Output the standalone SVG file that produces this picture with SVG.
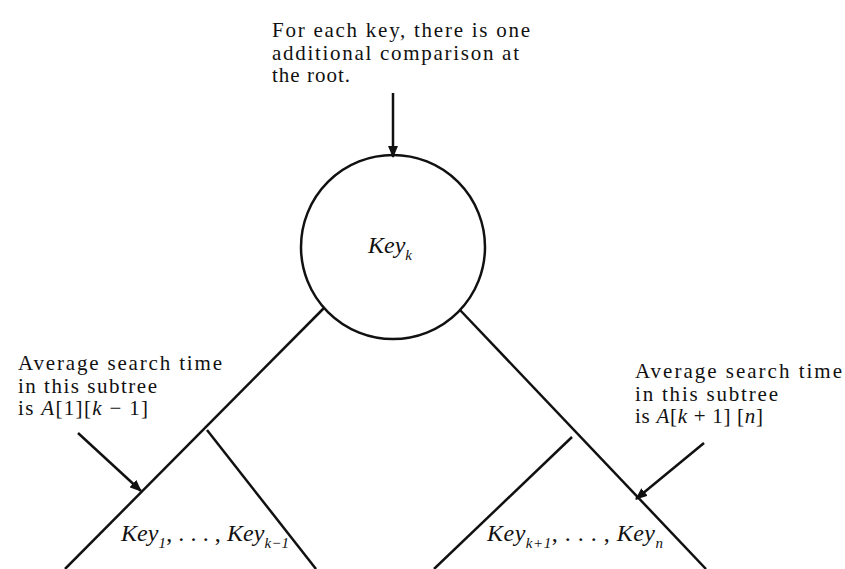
<svg xmlns="http://www.w3.org/2000/svg" width="845" height="569" viewBox="0 0 845 569">
<style>
.t{font-family:"Liberation Serif","Times New Roman",serif;font-size:21px;fill:#111}
.k{font-family:"Liberation Serif","Times New Roman",serif;font-size:24px;font-style:italic;fill:#111}
.i{font-style:italic}
.sub{font-size:15px}
.ln{stroke:#111;stroke-width:2.5;fill:none}
</style>
<defs>
<marker id="ah" markerWidth="12" markerHeight="10" refX="11" refY="5" orient="auto" markerUnits="userSpaceOnUse">
<path d="M0,0 L12,5 L0,10 Z" fill="#111"/>
</marker>
</defs>
<rect width="845" height="569" fill="#fff"/>
<g id="root">
<circle cx="393" cy="247" r="92" class="ln"/>
<text class="k" x="368" y="253">Key<tspan class="sub" dy="7">k</tspan></text>
</g>
<g id="left-subtree">
<text class="k" x="121" y="541" textLength="168">Key<tspan class="sub" dy="7">1</tspan><tspan dy="-7" font-style="normal">, . . . , </tspan>Key<tspan class="sub" dy="7">k−1</tspan></text>
</g>
<g id="right-subtree">
<text class="k" x="487" y="541" textLength="176">Key<tspan class="sub" dy="7">k+1</tspan><tspan dy="-7" font-style="normal">, . . . , </tspan>Key<tspan class="sub" dy="7">n</tspan></text>
</g>
<g id="note-root">
<text class="t" x="272" y="37" textLength="258">For each key, there is one</text>
<text class="t" x="272" y="60" textLength="247">additional comparison at</text>
<text class="t" x="272" y="82" textLength="78">the root.</text>
</g>
<g id="note-left">
<text class="t" x="18" y="370" textLength="204">Average search time</text>
<text class="t" x="18" y="393" textLength="139">in this subtree</text>
<text class="t" x="18" y="415" textLength="130">is <tspan class="i">A</tspan>[1][<tspan class="i">k</tspan> − 1]</text>
</g>
<g id="note-right">
<text class="t" x="635" y="378" textLength="207">Average search time</text>
<text class="t" x="635" y="401" textLength="143">in this subtree</text>
<text class="t" x="635" y="423" textLength="128">is <tspan class="i">A</tspan>[<tspan class="i">k</tspan> + 1] [<tspan class="i">n</tspan>]</text>
</g>
<g id="connectors">
<line class="ln" x1="324" y1="308" x2="65" y2="569"/>
<line class="ln" x1="207" y1="430" x2="316" y2="569"/>
<line class="ln" x1="460" y1="310" x2="706" y2="569"/>
<line class="ln" x1="572" y1="437" x2="434" y2="569"/>
<line class="ln" x1="393" y1="93" x2="393" y2="157" marker-end="url(#ah)"/>
<line class="ln" x1="78" y1="433" x2="141" y2="491" marker-end="url(#ah)"/>
<line class="ln" x1="704" y1="443" x2="636" y2="499" marker-end="url(#ah)"/>
</g>
</svg>
